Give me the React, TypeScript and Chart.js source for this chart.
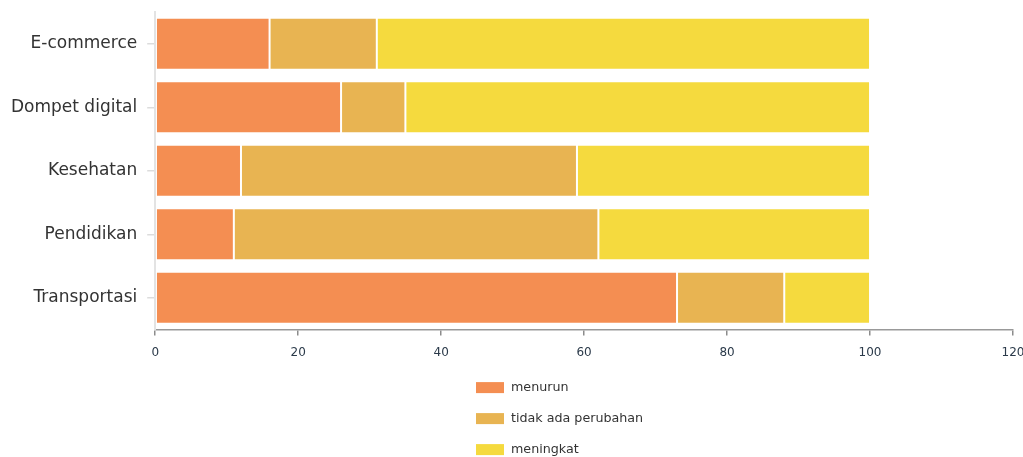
import React, { useEffect, useRef } from "react";
import { Chart, registerables } from "chart.js";

Chart.register(...registerables);

const categories = ["E-commerce", "Dompet digital", "Kesehatan", "Pendidikan", "Transportasi"];
const menurun = [16, 26, 12, 11, 73];
const tidakAdaPerubahan = [15, 9, 47, 51, 15];
const meningkat = [69, 65, 41, 38, 12];
const seriesLabels = ["menurun", "tidak ada perubahan", "meningkat"];
const seriesColors = ["#F48E52", "#E8B452", "#F5DA3E"];
const xTicks = [0, 20, 40, 60, 80, 100, 120];

const verticalLegend = {
  id: "verticalLegend",
  afterDraw(chart: any) {
    const ctx = chart.ctx;
    const ds = chart.data.datasets;
    const left = Math.round(chart.width * 0.4655);
    const top0 = chart.chartArea.bottom + 58;
    const rowGap = 31;
    ctx.save();
    ctx.font = "12.7px 'DejaVu Sans'";
    ctx.textBaseline = "middle";
    ds.forEach((d: any, i: number) => {
      const cy = top0 + i * rowGap;
      ctx.fillStyle = d.backgroundColor;
      ctx.fillRect(left, cy - 5.5, 28, 11);
      ctx.fillStyle = "#333";
      ctx.fillText(d.label, left + 35, cy);
    });
    ctx.restore();
  },
};

export default function App() {
  const ref = useRef<HTMLCanvasElement | null>(null);
  useEffect(() => {
    document.body.style.margin = "0";
    if (!ref.current) return;
    const data = [menurun, tidakAdaPerubahan, meningkat];
    const chart = new Chart(ref.current, {
      type: "bar",
      data: {
        labels: categories,
        datasets: data.map((vals, i) => ({
          label: seriesLabels[i],
          data: vals,
          backgroundColor: seriesColors[i],
          borderColor: "rgba(255,255,255,0.5)",
          borderWidth: 1,
          borderSkipped: false,
          barPercentage: 0.9,
          categoryPercentage: 0.91,
        })),
      },
      options: {
        indexAxis: "y",
        animation: false,
        responsive: false,
        layout: { padding: { top: 12, left: 1, right: 10, bottom: 87 } },
        plugins: { legend: { display: false }, tooltip: { enabled: false } },
        scales: {
          x: {
            stacked: true,
            min: 0,
            max: 120,
            afterBuildTicks: (axis: any) => {
              axis.ticks = xTicks.map((v) => ({ value: v }));
            },
            afterFit: (axis: any) => {
              axis.paddingRight = 0;
              axis.paddingLeft = 0;
            },
            grid: { drawOnChartArea: false, drawTicks: true, tickLength: 6, color: "#8c8c8c", lineWidth: 1.5 },
            border: { color: "#999", width: 1.5 },
            ticks: { color: "#2b3a4a", font: { family: "DejaVu Sans", size: 12 }, padding: 10, maxRotation: 0 },
          },
          y: {
            stacked: true,
            afterFit: (axis: any) => {
              axis.paddingTop = 0;
              axis.paddingBottom = 0;
            },
            grid: { drawOnChartArea: false, drawTicks: true, tickLength: 8, color: "#dcdcdc", offset: false, lineWidth: 1.5 },
            border: { color: "#e3e3e3", width: 2 },
            ticks: { color: "#333", font: { family: "DejaVu Sans", size: 17 }, padding: 10 },
          },
        },
      },
      plugins: [verticalLegend],
    });
    return () => chart.destroy();
  }, []);
  return (
    <div style={{ width: 1023, height: 457 }}>
      <canvas ref={ref} width={1023} height={457} style={{ display: "block" }} />
    </div>
  );
}
